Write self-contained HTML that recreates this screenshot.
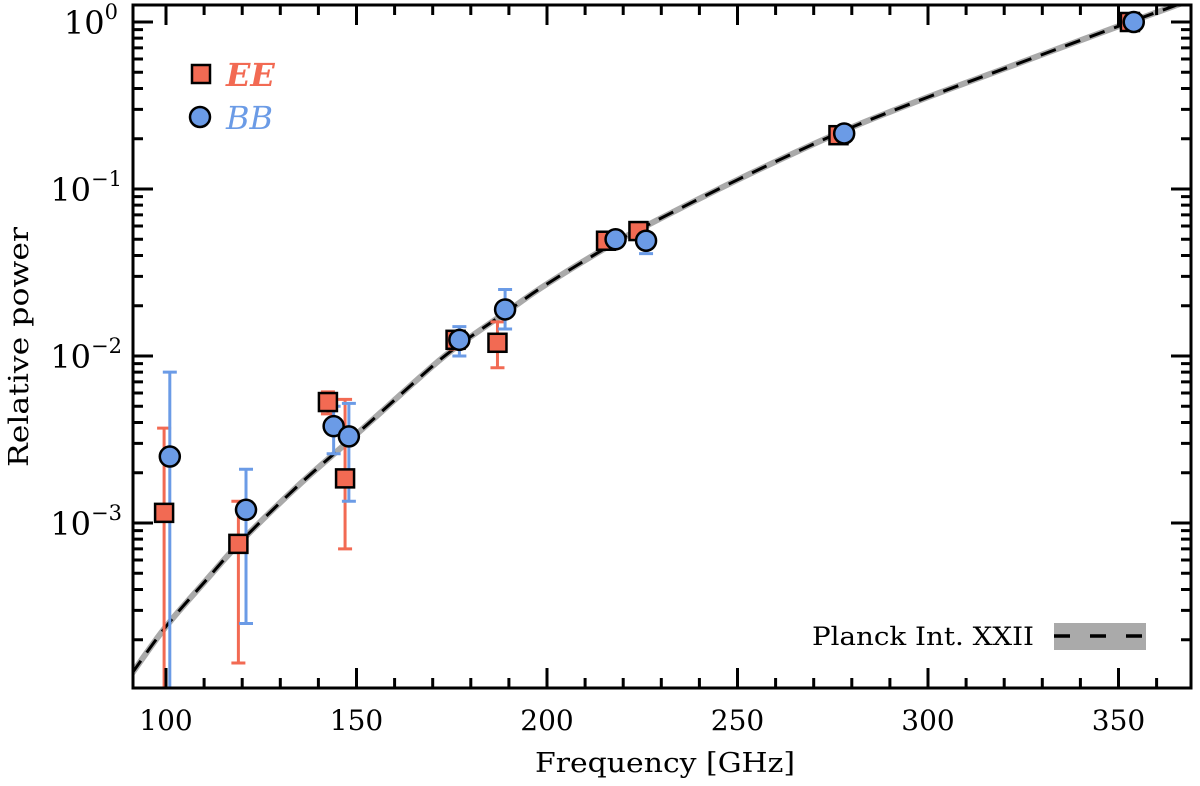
<!DOCTYPE html>
<html><head><meta charset="utf-8"><style>
body{margin:0;background:#fff;}
svg text{font-family:"DejaVu Serif","Liberation Serif",serif;}
</style></head><body>
<svg id="chart" width="1200" height="781" xmlns="http://www.w3.org/2000/svg">
<g id="g"></g>
</svg>
<script>
const curveFreq=[91,100,110,120,135,150,165,175,190,200,217,225,250,277,300,325,353,370];
const curveVal=[1.25e-4,2.4e-4,4.4e-4,7.9e-4,1.7e-3,3.4e-3,6.9e-3,1.08e-2,1.88e-2,2.7e-2,4.66e-2,5.86e-2,0.1135,0.219,0.355,0.579,1.0,1.38];
const eeFreq=[99.5,119,142.5,147,176,187,215.5,224,276.5,353];
const eeVal=[1.15e-3,7.5e-4,5.3e-3,1.85e-3,1.25e-2,1.2e-2,4.9e-2,5.6e-2,0.21,1.0];
const eeHi=[3.7e-3,1.35e-3,6.1e-3,5.5e-3,1.4e-2,1.6e-2,null,null,null,null];
const eeLo=[1e-4,1.45e-4,4.5e-3,7e-4,1.1e-2,8.5e-3,null,null,null,null];
const bbFreq=[101,121,144,148,177,189,218,226,278,354];
const bbVal=[2.5e-3,1.2e-3,3.8e-3,3.3e-3,1.25e-2,1.9e-2,5e-2,4.9e-2,0.215,1.0];
const bbHi=[8e-3,2.1e-3,5e-3,5.2e-3,1.5e-2,2.5e-2,null,4.9e-2,null,null];
const bbLo=[1e-4,2.5e-4,2.6e-3,1.35e-3,1.0e-2,1.45e-2,null,4.1e-2,null,null];
const xTicks=[100,150,200,250,300,350];
const yTicks=[0,-1,-2,-3];

const L=133,R=1191,T=5,B=688;
const X=f=>166+3.81*(f-100);
const Y=v=>22-167*Math.log10(v);
const g=document.getElementById('g');
const NS='http://www.w3.org/2000/svg';
function mk(tag,at,parent){const e=document.createElementNS(NS,tag);for(const k in at)e.setAttribute(k,at[k]);(parent||g).appendChild(e);return e;}
function cl(v){return Math.min(B,Math.max(T,v));}

// smooth curve (Catmull-Rom)
const P=curveFreq.map((f,i)=>[X(f),Y(curveVal[i])]);
let d='M'+P[0][0].toFixed(1)+','+P[0][1].toFixed(1);
for(let i=0;i<P.length-1;i++){const p0=P[Math.max(0,i-1)],p1=P[i],p2=P[i+1],p3=P[Math.min(P.length-1,i+2)];
 const c1=[p1[0]+(p2[0]-p0[0])/6,p1[1]+(p2[1]-p0[1])/6],c2=[p2[0]-(p3[0]-p1[0])/6,p2[1]-(p3[1]-p1[1])/6];
 d+=`C${c1[0].toFixed(1)},${c1[1].toFixed(1)} ${c2[0].toFixed(1)},${c2[1].toFixed(1)} ${p2[0].toFixed(1)},${p2[1].toFixed(1)}`;}
const clip=mk('clipPath',{id:'pc'});mk('rect',{x:L,y:T,width:R-L,height:B-T},clip);
let band=mk('path',{d:d,fill:'none',stroke:'#aaa','stroke-width':6,'clip-path':'url(#pc)'});


let dl=mk('path',{d:d,fill:'none',stroke:'#000','stroke-width':3,'stroke-dasharray':'16,10','clip-path':'url(#pc)'});



function errs(fr,hi,lo,col,nm){fr.forEach((f,i)=>{if(hi[i]==null)return;const x=X(f);const y1=cl(Y(hi[i])),y2=cl(Y(lo[i]));
 const e=mk('path',{d:`M${x},${y1}V${y2}M${x-7},${y1}H${x+7}M${x-7},${y2}H${x+7}`,stroke:col,'stroke-width':3,fill:'none'});
 
 });}
errs(eeFreq,eeHi,eeLo,'#f26a53','ee');
errs(bbFreq,bbHi,bbLo,'#6b9be6','bb');
eeFreq.forEach((f,i)=>{const r=mk('rect',{x:X(f)-9,y:Y(eeVal[i])-9,width:18,height:18,fill:'#f26a53',stroke:'#000','stroke-width':2.5});
 
 });
bbFreq.forEach((f,i)=>{const c=mk('circle',{cx:X(f),cy:Y(bbVal[i]),r:10,fill:'#6b9be6',stroke:'#000','stroke-width':2.5});
 
 });

// axes frame
const fr=mk('rect',{x:L,y:T,width:R-L,height:B-T,fill:'none',stroke:'#000','stroke-width':3});


let tk='';
for(let f=100;f<=360;f+=10){const x=X(f);const len=f%50==0?20:10;tk+=`M${x},${B}V${B-len}M${x},${T}V${T+len}`;}
for(let e=-4;e<=0;e++)for(let m=1;m<=9;m++){const v=m*Math.pow(10,e);const y=Y(v);if(y<T||y>B)continue;const len=m==1?20:10;tk+=`M${L},${y}H${L+len}M${R},${y}H${R-len}`;}
const tp=mk('path',{d:tk,stroke:'#000','stroke-width':3,fill:'none'});


xTicks.forEach(f=>{const t=mk('text',{x:X(f),y:730,'font-size':28,'text-anchor':'middle'});t.textContent=f;
 
 });
yTicks.forEach(e=>{const t=mk('text',{x:e==0?118:122,y:Y(Math.pow(10,e))+12,'font-size':32,'text-anchor':'end'});t.textContent='10';
 const s=mk('tspan',{dy:-15,'font-size':21},t);s.textContent=e==0?'0':'\u2212'+(-e);
 
 });
const xt=mk('text',{x:665,y:772,'font-size':27,'text-anchor':'middle',textLength:260,lengthAdjust:'spacingAndGlyphs'});xt.textContent='Frequency [GHz]';


const yt=mk('text',{x:0,y:0,'font-size':27,'text-anchor':'middle',transform:'translate(28,347) rotate(-90)',textLength:240,lengthAdjust:'spacingAndGlyphs'});yt.textContent='Relative power';



// legend
const lg=mk('g',{});


mk('rect',{x:192,y:65,width:18,height:18,fill:'#f26a53',stroke:'#000','stroke-width':2.5},lg);
const t1=mk('text',{x:226,y:86,'font-size':32,'font-style':'italic','font-weight':'bold',fill:'#f26a53'},lg);t1.textContent='EE';
mk('circle',{cx:200,cy:117,r:10,fill:'#6b9be6',stroke:'#000','stroke-width':2.5},lg);
const t2=mk('text',{x:226,y:129,'font-size':32,'font-style':'italic',fill:'#6b9be6'},lg);t2.textContent='BB';
const lg2=mk('g',{});


const t3=mk('text',{x:1034,y:645,'font-size':25,'text-anchor':'end',textLength:222,lengthAdjust:'spacingAndGlyphs'},lg2);t3.textContent='Planck Int. XXII';
mk('rect',{x:1054,y:623,width:92,height:27,fill:'#aaa'},lg2);
mk('path',{d:'M1054,636H1146',stroke:'#000','stroke-width':3.5,'stroke-dasharray':'16,20'},lg2);
</script>
</body></html>
